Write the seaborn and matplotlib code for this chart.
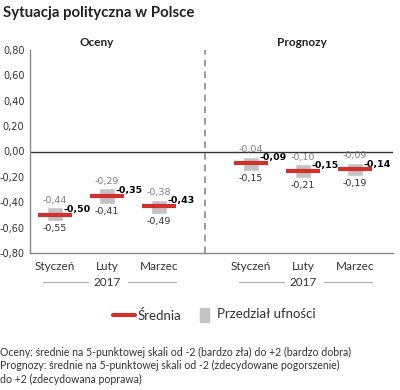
import numpy as np
import matplotlib
matplotlib.use('Agg')
import matplotlib.pyplot as plt
import seaborn as sns
from matplotlib.lines import Line2D
from matplotlib.patches import Rectangle

months = ['Styczeń', 'Luty', 'Marzec']
year = '2017'
oceny_mean = [-0.50, -0.35, -0.43]
oceny_hi = [-0.44, -0.29, -0.38]
oceny_lo = [-0.55, -0.41, -0.49]
prog_mean = [-0.09, -0.15, -0.14]
prog_hi = [-0.04, -0.10, -0.09]
prog_lo = [-0.15, -0.21, -0.19]
yticks = [0.8, 0.6, 0.4, 0.2, 0.0, -0.2, -0.4, -0.6, -0.8]

sns.set_style('white')
plt.rcParams['font.family'] = ['Lato', 'DejaVu Sans']

RED = '#d0312d'
GREY = '#c3c3c3'
W, H = 400, 390

fig = plt.figure(figsize=(4, 3.9), dpi=100)
ax = fig.add_axes([30 / W, 1 - 253 / H, 363 / W, 203 / H])

def fmt(v):
    return f'{v:.2f}'.replace('.', ',')

def draw_group(x, mean, hi, lo):
    for xi, m, h, l in zip(x, mean, hi, lo):
        ax.bar(xi, h - l, bottom=l, width=0.3, color=GREY, zorder=2)
        ax.hlines(m, xi - 0.33, xi + 0.33, color=RED, lw=3, zorder=3)
        ax.text(xi, h + 0.02, fmt(h), ha='center', va='bottom', fontsize=6.8,
                color='#808080', family='DejaVu Sans')
        ax.text(xi, l - 0.025, fmt(l), ha='center', va='top', fontsize=6.8,
                color='#333333', family='DejaVu Sans')
        ax.text(xi + 0.16, m + 0.005, fmt(m), ha='left', va='bottom', fontsize=6.8,
                color='black', weight='bold', family='DejaVu Sans', zorder=4)

ox = np.arange(3)
px = np.arange(3) + 3.77
draw_group(ox, oceny_mean, oceny_hi, oceny_lo)
draw_group(px, prog_mean, prog_hi, prog_lo)

ax.set_xlim(-0.48, 6.5)
ax.set_ylim(-0.8, 0.8)
ax.axhline(0, color='#333333', lw=1, zorder=1)
ax.axvline(2.88, color='#8a8a8a', lw=1.2, ls=(0, (4, 3)), zorder=1)

ax.set_yticks(yticks)
ax.set_yticklabels([fmt(v) for v in yticks], family='DejaVu Sans', fontsize=7, color='#333333')
ax.tick_params(axis='y', length=0, pad=4)
ax.set_xticks([])
sns.despine(ax=ax, top=True, right=True)
for s in ['left', 'bottom']:
    ax.spines[s].set_color('#888888')
    ax.spines[s].set_linewidth(1)

# month labels and year brackets
ybr = -1.03
for grp in (ox, px):
    for xi, mname in zip(grp, months):
        ax.text(xi, -0.86, mname, ha='center', va='top', fontsize=8.5, color='#333333', clip_on=False)
    ax.text(grp[1], ybr, year, ha='center', va='center', fontsize=8.5, color='#333333', clip_on=False)
    ax.add_line(Line2D([grp[0] - 0.23, grp[1] - 0.37], [ybr, ybr], color='#aaaaaa', lw=0.8, clip_on=False))
    ax.add_line(Line2D([grp[1] + 0.4, grp[2] + 0.33], [ybr, ybr], color='#aaaaaa', lw=0.8, clip_on=False))

fig.text(3 / W, 1 - 13 / H, 'Sytuacja polityczna w Polsce', fontsize=10.8, weight='bold',
         va='center', ha='left', color='#222222')
fig.text(97 / W, 1 - 42 / H, 'Oceny', fontsize=8.5, weight='bold', ha='center', va='center', color='#222222')
fig.text(302 / W, 1 - 42 / H, 'Prognozy', fontsize=8.5, weight='bold', ha='center', va='center', color='#222222')

# legend
fig.add_artist(Line2D([113 / W, 135 / W], [1 - 315 / H, 1 - 315 / H], color=RED, lw=3, solid_capstyle='round'))
fig.text(138 / W, 1 - 315 / H, 'Średnia', fontsize=9.5, va='center', ha='left', color='#333333')
fig.add_artist(Rectangle((200 / W, 1 - 322 / H), 9 / W, 14 / H, color=GREY, transform=fig.transFigure))
fig.text(217 / W, 1 - 314 / H, 'Przedział ufności', fontsize=9.5, va='center', ha='left', color='#333333')

notes = ['Oceny: średnie na 5-punktowej skali od -2 (bardzo zła) do +2 (bardzo dobra)',
         'Prognozy: średnie na 5-punktowej skali od -2 (zdecydowane pogorszenie)',
         'do +2 (zdecydowana poprawa)']
for i, line in enumerate(notes):
    fig.text(0 / W, 1 - (352 + 13.5 * i) / H, line, fontsize=7.6, va='center', ha='left', color='#333333')

fig.savefig('out.png', dpi=100)
